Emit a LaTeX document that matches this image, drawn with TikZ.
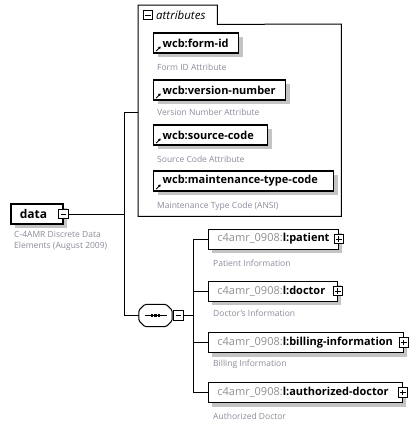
\documentclass[tikz,border=0pt]{standalone}
\usepackage{fontspec}
\setmainfont{Open Sans}
\definecolor{descgray}{HTML}{8C8C9C}
\definecolor{prefixgray}{HTML}{8F8F8F}
\definecolor{shadowgray}{HTML}{C4C4C4}
\usetikzlibrary{arrows.meta, shadows}
\tikzset{
  elem/.style={
    draw, fill=white, line width=#1, minimum height=20pt,
    inner xsep=9pt, inner ysep=0pt, anchor=west, align=left,
    font=\fontsize{11}{12}\selectfont\bfseries,
    execute at begin node={\exhyphenpenalty=10000\relax\hyphenpenalty=10000\relax},
    drop shadow={shadow xshift=4pt, shadow yshift=-4pt,
      fill=shadowgray, opacity=1}
  },
  elem/.default=0.8pt,
  attr/.style={
    elem=1.4pt,
    path picture={\draw[line width=0.9pt, -{Triangle[length=2.4pt,width=2.8pt]}]
      ([shift={(2.5pt,2pt)}]path picture bounding box.south west) -- ++(4.5pt,4.5pt);}
  },
  desc/.style={anchor=west, inner sep=0pt, align=left, text=descgray,
    font=\fontsize{8.5}{11}\selectfont},
  pmbox/.style={draw, fill=white, minimum size=9.5pt, inner sep=0pt, line width=0.8pt},
  minus/.style={pmbox,
    path picture={\draw[line width=0.8pt]
      ([xshift=-2.8pt]path picture bounding box.center) --
      ([xshift=2.8pt]path picture bounding box.center);}},
  plus/.style={pmbox,
    path picture={\draw[line width=0.8pt]
      ([xshift=-2.8pt]path picture bounding box.center) --
      ([xshift=2.8pt]path picture bounding box.center)
      ([yshift=-2.8pt]path picture bounding box.center) --
      ([yshift=2.8pt]path picture bounding box.center);}},
  seqbox/.style={minimum width=33pt, minimum height=22pt, inner sep=0pt},
  link/.style={line width=0.9pt},
}
\newcommand{\pfx}{\textcolor{prefixgray}{\mdseries c4amr\_0908:}}
% octagon outline round a node: #1 node, #2 chamfer
\newcommand{\octpath}[2]{([xshift=#2]#1.north west) -- ([xshift=-#2]#1.north east)
  -- ([yshift=-#2]#1.north east) -- ([yshift=#2]#1.south east)
  -- ([xshift=-#2]#1.south east) -- ([xshift=#2]#1.south west)
  -- ([yshift=#2]#1.south west) -- ([yshift=-#2]#1.north west) -- cycle}

\begin{document}
\begin{tikzpicture}[x=1pt, y=-1pt]
    \fill[white] (0,0) rectangle (418,426);
    \useasboundingbox (0,0) rectangle (418,426);

    % root element
    \node[elem=1.6pt, text width=34pt, font=\fontsize{12}{13}\selectfont\bfseries]
      (data) at (10,214) {data};
    \node[minus] (dataminus) at (data.east) {};
    \node[desc, anchor=north west] (datadesc) at (14,231)
      {C-4AMR Discrete Data\\Elements (August 2009)};

    % attribute group
    \node[anchor=north west, minimum width=79pt, minimum height=19pt, inner sep=0pt]
      (attrtab) at (138,5) {};
    \node[anchor=north west, minimum width=203pt, minimum height=192pt, inner sep=0pt]
      (attrbody) at (138,24) {};
    \draw[line width=1pt] (attrbody.south west) -- (attrtab.north west)
      -- (attrtab.north east) -- (attrtab.south east)
      -- (attrbody.north east) -- (attrbody.south east) -- cycle;
    \node[minus] (tabminus) at (148,15) {};
    \node[anchor=west, inner sep=0pt, font=\fontsize{11.5}{12}\selectfont\itshape]
      (tablabel) at (156,15) {attributes};

    \node[attr, text width=67pt] (formid) at (153,43) {wcb:form-id};
    \node[desc] (formiddesc) at (157,67) {Form ID Attribute};
    \node[attr, text width=114pt] (version) at (153,90) {wcb:version-number};
    \node[desc] (versiondesc) at (157,112) {Version Number Attribute};
    \node[attr, text width=96pt] (source) at (153,135) {wcb:source-code};
    \node[desc] (sourcedesc) at (157,159) {Source Code Attribute};
    \node[attr, text width=162pt] (maint) at (153,181) {wcb:maintenance-type-code};
    \node[desc] (maintdesc) at (157,206) {Maintenance Type Code (ANSI)};

    % sequence compositor
    \node[seqbox] (seq) at (155.5,315.5) {};
    \fill[shadowgray, rounded corners=1.5pt, shift={(4pt,-4pt)}] \octpath{seq}{6pt};
    \draw[line width=1pt, fill=white, rounded corners=1.5pt] \octpath{seq}{6pt};
    \draw[line width=0.9pt] ([xshift=-11pt]seq.center) -- ([xshift=11pt]seq.center);
    \foreach \dx in {-3.5,0,3.5}
      \fill ([xshift=\dx pt]seq.center) +(-1.3pt,-1.3pt) rectangle +(1.3pt,1.3pt);
    \node[minus, anchor=west] (seqminus) at ([xshift=1pt]seq.east) {};

    % child elements
    \node[elem, text width=112pt] (patient) at (208,239) {\pfx l:patient};
    \node[plus] (patientplus) at (patient.east) {};
    \node[desc] (patientdesc) at (213,263) {Patient Information};
    \node[elem, text width=111pt] (doctor) at (208,291) {\pfx l:doctor};
    \node[plus] (doctorplus) at (doctor.east) {};
    \node[desc] (doctordesc) at (213,313) {Doctor's Information};
    \node[elem, text width=177pt] (billing) at (208,342.5) {\pfx l:billing-information};
    \node[plus] (billingplus) at (billing.east) {};
    \node[desc] (billingdesc) at (213,364) {Billing Information};
    \node[elem, text width=176pt] (authdoc) at (208,392.5) {\pfx l:authorized-doctor};
    \node[plus] (authdocplus) at (authdoc.east) {};
    \node[desc] (authdocdesc) at (213,416) {Authorized Doctor};

    % connectors
    \coordinate (trunk) at (124,214);
    \coordinate (attrin) at (138,112);
    \draw[link] (dataminus.east) -- (dataminus.east -| trunk);
    \draw[link] (trunk |- attrin) -- (attrin);
    \draw[link] (trunk |- attrin) |- (seq.west);

    \coordinate (ctrunk) at (193,316);
    \draw[link] (seqminus.east) -- (seqminus.east -| ctrunk);
    \draw[link] (ctrunk |- patient.west) -- (ctrunk |- authdoc.west);
    \foreach \n in {patient,doctor,billing,authdoc}
      \draw[link] (ctrunk |- \n.west) -- (\n.west);
  \end{tikzpicture}
\end{document}
